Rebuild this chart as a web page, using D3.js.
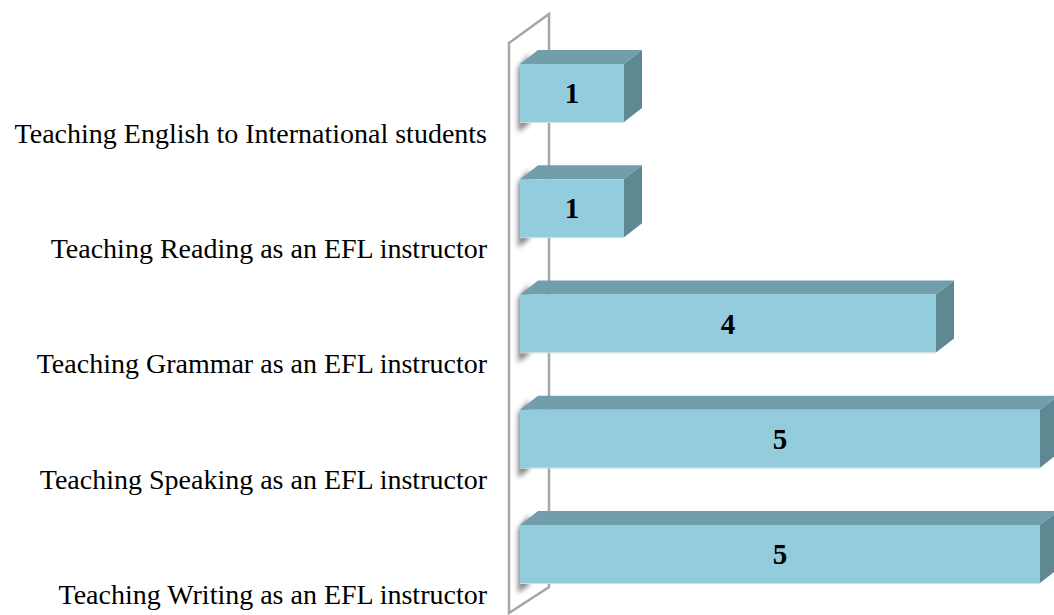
<!DOCTYPE html>
<html lang="en">
    <head>
        <meta charset="utf-8">
        <title>Teaching experience</title>
        <script src="https://d3js.org/d3.v7.min.js"></script>
        <style>
            body { margin: 0; background: #fff; }
            text { font-family: "Liberation Serif", "Times New Roman", serif; }
        </style>
    </head>
    <body>
        <div class="bar-plot"></div>
        <script type="text/javascript">
            // categories, top to bottom
            const categories = [
                'Teaching English to International students',
                'Teaching Reading as an EFL instructor',
                'Teaching Grammar as an EFL instructor',
                'Teaching Speaking as an EFL instructor',
                'Teaching Writing as an EFL instructor'
            ];
            const counts = [1, 1, 4, 5, 5];
            const xDomain = [0, 5];

            const data = categories.map((c, i) => ({category: c, count: counts[i]}));

            const width = 1054;
            const height = 615;
            const depthX = 18, depthY = 14;   // bar depth
            const wallX = 40, wallY = 29;     // back wall depth

            const svg = d3.select('.bar-plot')
                .append('svg')
                .attr('width', width)
                .attr('height', height);

            const x = d3.scaleLinear().domain(xDomain).range([520, 1040]);
            const y = d3.scaleBand()
                .domain(categories)
                .range([64, 583])
                .paddingInner(0.497)
                .paddingOuter(0);

            const defs = svg.append('defs');
            defs.append('filter')
                .attr('id', 'soft')
                .attr('x', '-50%').attr('y', '-50%')
                .attr('width', '200%').attr('height', '200%')
                .append('feGaussianBlur')
                .attr('stdDeviation', 2.5);

            // back wall
            const wl = x(0) - 11;
            const wallTop = 43, wallBottom = 613;
            svg.append('path')
                .attr('d', `M${wl},${wallBottom} L${wl},${wallTop} L${wl + wallX},${wallTop - wallY} L${wl + wallX},${wallBottom - 26} Z`)
                .attr('fill', 'none')
                .attr('stroke', '#a6a6a6')
                .attr('stroke-width', 2.5)
                .attr('stroke-linejoin', 'miter');

            const bars = svg.selectAll('g.bar')
                .data(data)
                .enter()
                .append('g')
                .attr('class', 'bar');

            // soft shadow cast on the wall
            bars.append('path')
                .attr('d', d => {
                    const x0 = x(0), t = y(d.category), b = t + y.bandwidth();
                    return `M${x0 - 2},${t + 4} L${x0 + 9},${t - 10} L${x0 + 9},${b + 2} L${x0 - 2},${b + 10} Z`;
                })
                .attr('fill', '#444')
                .attr('opacity', 0.65)
                .attr('filter', 'url(#soft)');

            // top face
            bars.append('path')
                .attr('d', d => {
                    const x0 = x(0), x1 = x(d.count), t = y(d.category);
                    return `M${x0},${t} L${x0 + depthX},${t - depthY} L${x1 + depthX},${t - depthY} L${x1},${t} Z`;
                })
                .attr('fill', '#719eaa');

            // side face
            bars.append('path')
                .attr('d', d => {
                    const x1 = x(d.count), t = y(d.category), b = t + y.bandwidth();
                    return `M${x1},${t} L${x1 + depthX},${t - depthY} L${x1 + depthX},${b - depthY} L${x1},${b} Z`;
                })
                .attr('fill', '#5e8992');

            // front face
            bars.append('rect')
                .attr('x', x(0))
                .attr('y', d => y(d.category))
                .attr('width', d => x(d.count) - x(0))
                .attr('height', y.bandwidth())
                .attr('fill', '#93cddd');

            bars.append('line')
                .attr('x1', x(0))
                .attr('x2', d => x(d.count))
                .attr('y1', d => y(d.category) + y.bandwidth() + 0.5)
                .attr('y2', d => y(d.category) + y.bandwidth() + 0.5)
                .attr('stroke', '#d4dde0')
                .attr('stroke-width', 1);

            // value labels
            bars.append('text')
                .text(d => d.count)
                .attr('x', d => (x(0) + x(d.count)) / 2)
                .attr('y', d => y(d.category) + y.bandwidth() / 2 + 10)
                .attr('text-anchor', 'middle')
                .attr('font-weight', 'bold')
                .attr('font-size', 29)
                .attr('fill', '#000');

            // category labels
            svg.selectAll('text.cat')
                .data(categories)
                .enter()
                .append('text')
                .attr('class', 'cat')
                .text(d => d)
                .attr('x', 487)
                .attr('y', d => y(d) + y.bandwidth() + 21)
                .attr('text-anchor', 'end')
                .attr('font-size', 28)
                .attr('fill', '#000');
        </script>
    </body>
</html>
